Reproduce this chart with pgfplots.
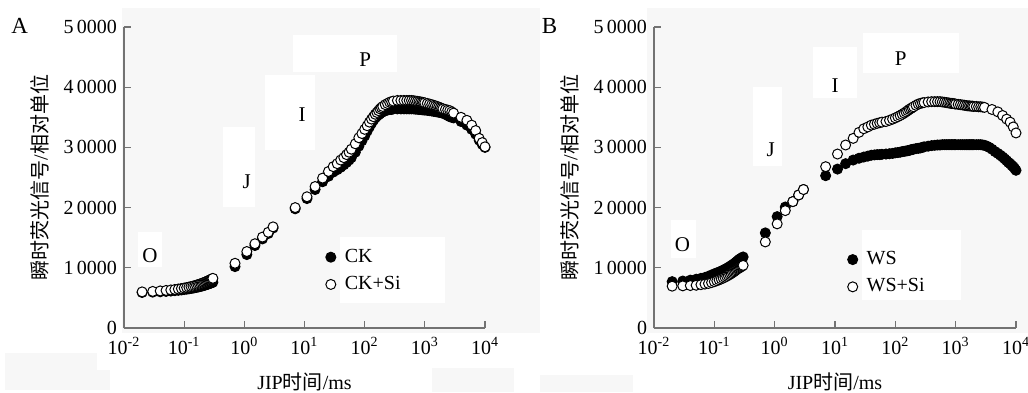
\documentclass[border=0pt]{standalone}
\usepackage{fontspec}
\setmainfont{Liberation Serif}
\newfontfamily\cjk{Noto Sans CJK SC}
\usepackage{pgfplots}
\pgfplotsset{compat=1.18}

\begin{document}
\begin{tikzpicture}
\path[use as bounding box, fill=white] (0,0) rectangle (514pt,196pt);
% light grey plot areas
\fill[black!3] (61pt,29.5pt) rectangle (270pt,192pt);
\fill[black!3] (323.5pt,29.5pt) rectangle (514pt,192pt);
\fill[black!3] (2.5pt,1pt) rectangle (48.5pt,19.5pt);
\fill[black!3] (2.5pt,1pt) rectangle (55pt,11pt);
\fill[black!3] (216pt,0) rectangle (257pt,12pt);
\fill[black!3] (270pt,0) rectangle (316.5pt,8.5pt);
% white patches (panel A)
\fill[white] (69pt,62.5pt) rectangle (81pt,80pt);
\fill[white] (111.5pt,92.5pt) rectangle (127.5pt,132.5pt);
\fill[white] (132.5pt,121pt) rectangle (157.5pt,158.5pt);
\fill[white] (146.5pt,160pt) rectangle (198.5pt,178.5pt);
\fill[white] (170pt,44.5pt) rectangle (222.5pt,77.5pt);
% white patches (panel B)
\fill[white] (335.35pt,66.85pt) rectangle (347.85pt,86pt);
\fill[white] (376.65pt,113.15pt) rectangle (391.15pt,152.35pt);
\fill[white] (406.65pt,146.85pt) rectangle (428.65pt,172.65pt);
\fill[white] (431.65pt,159.65pt) rectangle (479.5pt,179.35pt);
\fill[white] (431.15pt,46pt) rectangle (480.35pt,81pt);

\node[font=\fontsize{11.5}{13}\selectfont] at (9.85pt,183pt) {A};
\node[font=\fontsize{11.5}{13}\selectfont] at (274.75pt,183pt) {B};

% ---------------- Panel A ----------------
\begin{axis}[at={(62pt,32pt)},
    scale only axis, anchor=south west,
    width=180.5pt, height=150.5pt,
    xmode=log, xmin=0.01, xmax=10000, ymin=0, ymax=50000,
    axis x line*=bottom, axis y line*=left,
    axis line style={black!55, line width=0.6pt},
    tick style={black!55, line width=0.6pt},
    tick align=inside, major tick length=3.5pt,
    xminorticks=false, yminorticks=false,
    xtick={0.01,0.1,1,10,100,1000,10000},
    xticklabels={10\textsuperscript{-2},10\textsuperscript{-1},10\textsuperscript{0},10\textsuperscript{1},10\textsuperscript{2},10\textsuperscript{3},10\textsuperscript{4}},
    ytick={0,10000,20000,30000,40000,50000},
    yticklabels={0,1\,0000,2\,0000,3\,0000,4\,0000,5\,0000},
    scaled y ticks=false,
    tick label style={font=\fontsize{10}{12}\selectfont, black},
    xticklabel style={inner sep=0.8pt, yshift=-3.8pt},
    yticklabel style={inner sep=0.8pt, xshift=-2.5pt},
    label style={font=\fontsize{10}{12}\selectfont},
    ylabel={{\cjk 瞬时荧光信号}/{\cjk 相对单位}},
    xlabel={JIP{\cjk 时间}/ms},
    xlabel style={at={(axis description cs:0.5,-0.178)}, anchor=center},
    ylabel style={at={(axis description cs:-0.233,0.5)}, anchor=center},
    clip=false,
    legend cell align=left,
    legend style={draw=none, fill=none, anchor=west, inner sep=0pt,
      font=\fontsize{10}{12}\selectfont, row sep=1.5pt, column sep=2.5pt,
      at={(axis description cs:0.558,0.19)}},
  ]
\addplot[only marks, mark=*, mark size=2.5pt, mark options={draw=black, fill=black, line width=0.5pt}] coordinates {
(0.02,5900)(0.03,5960)(0.04,6020)(0.05,6080)(0.06,6140)(0.07,6200)(0.08,6260)(0.09,6320)(0.10,6390)(0.11,6450)
(0.12,6510)(0.13,6570)(0.14,6630)(0.15,6690)(0.16,6750)(0.17,6810)(0.18,6870)(0.19,6930)(0.20,6990)(0.21,7050)
(0.22,7110)(0.23,7180)(0.24,7240)(0.25,7300)(0.26,7360)(0.27,7420)(0.28,7480)(0.29,7540)(0.30,7600)
(0.7,10200)(1.1,12200)(1.5,13700)(2,14800)(2.5,15700)(3,16600)
(7,19800)(11,21500)(15,23000)(20,24300)(25,25200)(30,25900)(35,26300)(40,26700)(45,27100)(50,27500)
(55,27900)(60,28300)(70,29200)(80,30200)(90,31100)(100,31900)(110,32700)(120,33400)(130,34000)(140,34500)
(150,34900)(160,35200)(170,35400)(180,35600)(190,35800)(200,35900)(220,36100)(240,36200)(260,36300)(280,36300)
(300,36400)(350,36400)(400,36400)(450,36400)(500,36400)(550,36400)(600,36400)(650,36400)(700,36350)(750,36350)
(800,36300)(850,36300)(900,36250)(950,36250)(1000,36200)(1100,36150)(1200,36100)(1300,36050)(1400,36000)(1500,35950)
(1600,35900)(1700,35850)(1800,35800)(1900,35750)(2000,35700)(2200,35500)(2400,35300)(2600,35100)(2800,35000)(3000,34900)
(4000,34300)(5000,33700)(6000,33000)(7000,32200)(8000,31200)(9000,30500)(10000,30000)
};
\addlegendentry{CK}
\addplot[only marks, mark=*, mark size=2.5pt, mark options={draw=black, fill=white, line width=0.5pt}] coordinates {
(0.02,6000)(0.03,6080)(0.04,6160)(0.05,6240)(0.06,6320)(0.07,6400)(0.08,6480)(0.09,6560)(0.10,6640)(0.11,6720)
(0.12,6800)(0.13,6880)(0.14,6960)(0.15,7040)(0.16,7120)(0.17,7200)(0.18,7280)(0.19,7360)(0.20,7440)(0.21,7520)
(0.22,7600)(0.23,7680)(0.24,7760)(0.25,7840)(0.26,7920)(0.27,8000)(0.28,8080)(0.29,8160)(0.30,8250)
(0.7,10750)(1.1,12700)(1.5,14000)(2,15100)(2.5,15900)(3,16800)
(7,20000)(11,21800)(15,23500)(20,24900)(25,26000)(30,26800)(35,27300)(40,27900)(45,28300)(50,28800)
(55,29200)(60,29700)(70,30600)(80,31600)(90,32300)(100,33000)(110,33600)(120,34200)(130,34700)(140,35100)
(150,35500)(160,35800)(170,36100)(180,36400)(190,36600)(200,36800)(220,37100)(240,37300)(260,37500)(280,37600)
(300,37700)(350,37800)(400,37800)(450,37800)(500,37800)(550,37800)(600,37800)(650,37750)(700,37700)(750,37650)
(800,37600)(850,37550)(900,37500)(950,37450)(1000,37400)(1100,37300)(1200,37200)(1300,37100)(1400,37000)(1500,36900)
(1600,36800)(1700,36700)(1800,36600)(1900,36500)(2000,36400)(2200,36300)(2400,36200)(2600,36100)(2800,35900)(3000,35700)
(4000,35000)(5000,34500)(6000,33700)(7000,32800)(8000,31500)(9000,30800)(10000,30100)
};
\addlegendentry{CK+Si}
\node[font=\fontsize{10.5}{12}\selectfont] at (axis cs:0.027,12100) {O};
\node[font=\fontsize{10.5}{12}\selectfont] at (axis cs:1.1,24300) {J};
\node[font=\fontsize{10.5}{12}\selectfont] at (axis cs:9.1,35400) {I};
\node[font=\fontsize{10.5}{12}\selectfont] at (axis cs:102,44500) {P};
\end{axis}

% ---------------- Panel B ----------------
\begin{axis}[at={(327pt,32pt)},
    scale only axis, anchor=south west,
    width=181pt, height=150.5pt,
    xmode=log, xmin=0.01, xmax=10000, ymin=0, ymax=50000,
    axis x line*=bottom, axis y line*=left,
    axis line style={black!55, line width=0.6pt},
    tick style={black!55, line width=0.6pt},
    tick align=inside, major tick length=3.5pt,
    xminorticks=false, yminorticks=false,
    xtick={0.01,0.1,1,10,100,1000,10000},
    xticklabels={10\textsuperscript{-2},10\textsuperscript{-1},10\textsuperscript{0},10\textsuperscript{1},10\textsuperscript{2},10\textsuperscript{3},10\textsuperscript{4}},
    ytick={0,10000,20000,30000,40000,50000},
    yticklabels={0,1\,0000,2\,0000,3\,0000,4\,0000,5\,0000},
    scaled y ticks=false,
    tick label style={font=\fontsize{10}{12}\selectfont, black},
    xticklabel style={inner sep=0.8pt, yshift=-3.8pt},
    yticklabel style={inner sep=0.8pt, xshift=-2.5pt},
    label style={font=\fontsize{10}{12}\selectfont},
    ylabel={{\cjk 瞬时荧光信号}/{\cjk 相对单位}},
    xlabel={JIP{\cjk 时间}/ms},
    xlabel style={at={(axis description cs:0.5,-0.178)}, anchor=center},
    ylabel style={at={(axis description cs:-0.233,0.5)}, anchor=center},
    clip=false,
    legend cell align=left,
    legend style={draw=none, fill=none, anchor=west, inner sep=0pt,
      font=\fontsize{10}{12}\selectfont, row sep=1.5pt, column sep=2.5pt,
      at={(axis description cs:0.534,0.182)}},
  ]
\addplot[only marks, mark=*, mark size=2.5pt, mark options={draw=black, fill=black, line width=0.5pt}] coordinates {
(0.02,7700)(0.03,7800)(0.04,7950)(0.05,8100)(0.06,8250)(0.07,8400)(0.08,8600)(0.09,8800)(0.10,9000)(0.11,9150)
(0.12,9300)(0.13,9450)(0.14,9600)(0.15,9750)(0.16,9900)(0.17,10050)(0.18,10200)(0.19,10350)(0.20,10500)(0.21,10650)
(0.22,10800)(0.23,10950)(0.24,11100)(0.25,11250)(0.26,11400)(0.27,11500)(0.28,11600)(0.29,11700)(0.30,11800)
(0.7,15800)(1.1,18500)(1.5,20100)(2,21000)(2.5,22100)(3,23000)
(7,25300)(11,26400)(15,27300)(20,27900)(25,28200)(30,28400)(35,28550)(40,28700)(45,28750)(50,28800)
(55,28800)(60,28850)(70,28900)(80,28950)(90,29000)(100,29100)(110,29150)(120,29200)(130,29300)(140,29350)
(150,29400)(160,29450)(170,29500)(180,29600)(190,29650)(200,29700)(220,29800)(240,29850)(260,29900)(280,30000)
(300,30100)(350,30200)(400,30300)(450,30350)(500,30400)(550,30400)(600,30450)(650,30450)(700,30450)(750,30450)
(800,30450)(850,30450)(900,30450)(950,30450)(1000,30450)(1100,30450)(1200,30450)(1300,30450)(1400,30450)(1500,30450)
(1600,30450)(1700,30450)(1800,30450)(1900,30450)(2000,30450)(2200,30450)(2400,30450)(2600,30450)(2800,30400)(3000,30350)
(3300,30200)(3600,30000)(4000,29700)(4500,29300)(5000,29000)(5500,28700)(6000,28400)(6500,28100)(7000,27800)(7500,27500)
(8000,27300)(8500,27000)(9000,26800)(9500,26500)(10000,26200)
};
\addlegendentry{WS}
\addplot[only marks, mark=*, mark size=2.5pt, mark options={draw=black, fill=white, line width=0.5pt}] coordinates {
(0.02,6950)(0.03,7000)(0.04,7050)(0.05,7100)(0.06,7200)(0.07,7300)(0.08,7400)(0.09,7550)(0.10,7700)(0.11,7850)
(0.12,8000)(0.13,8150)(0.14,8300)(0.15,8450)(0.16,8600)(0.17,8750)(0.18,8900)(0.19,9050)(0.20,9200)(0.21,9350)
(0.22,9500)(0.23,9650)(0.24,9800)(0.25,9900)(0.26,10000)(0.27,10100)(0.28,10200)(0.29,10300)(0.30,10400)
(0.7,14300)(1.1,17300)(1.5,19500)(2,21000)(2.5,22100)(3,23000)
(7,26800)(11,28900)(15,30400)(20,31500)(25,32500)(30,33100)(35,33400)(40,33700)(45,33850)(50,34000)
(55,34100)(60,34200)(70,34300)(80,34500)(90,34700)(100,34900)(110,35100)(120,35300)(130,35500)(140,35700)
(150,35900)(160,36100)(170,36300)(180,36450)(190,36600)(200,36750)(220,37000)(240,37200)(260,37300)(280,37400)
(300,37450)(350,37550)(400,37600)(450,37600)(500,37600)(550,37600)(600,37550)(650,37500)(700,37450)(750,37400)
(800,37350)(850,37300)(900,37300)(950,37250)(1000,37200)(1100,37150)(1200,37100)(1300,37050)(1400,37000)(1500,36950)
(1600,36900)(1700,36900)(1800,36850)(1900,36850)(2000,36800)(2200,36800)(2400,36750)(2600,36750)(2800,36700)(3000,36650)
(4000,36300)(5000,35900)(6000,35300)(7000,34700)(8000,34200)(9000,33400)(10000,32400)
};
\addlegendentry{WS+Si}
\node[font=\fontsize{10.5}{12}\selectfont] at (axis cs:0.0295,13790) {O};
\node[font=\fontsize{10.5}{12}\selectfont] at (axis cs:0.86,29570) {J};
\node[font=\fontsize{10.5}{12}\selectfont] at (axis cs:10,40200) {I};
\node[font=\fontsize{10.5}{12}\selectfont] at (axis cs:123,44800) {P};
\end{axis}
\end{tikzpicture}
\end{document}
